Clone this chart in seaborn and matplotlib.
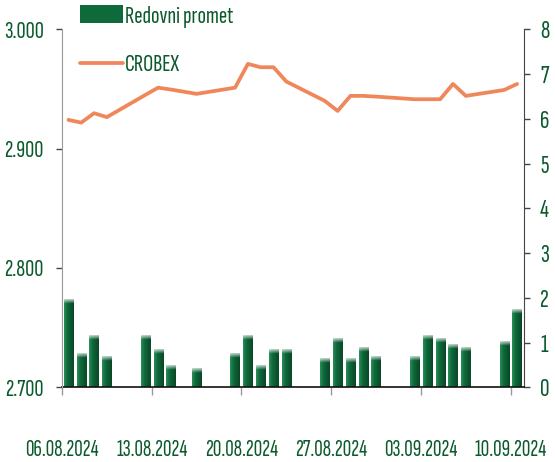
import pandas as pd
import numpy as np
import matplotlib.pyplot as plt
import matplotlib.colors as mcolors
import matplotlib.ticker as mticker
from matplotlib.patches import Patch
from matplotlib.lines import Line2D
import seaborn as sns

# trgovinski dani
dates = ['06.08.2024', '07.08.2024', '08.08.2024', '09.08.2024',
         '12.08.2024', '13.08.2024', '14.08.2024', '16.08.2024',
         '19.08.2024', '20.08.2024', '21.08.2024', '22.08.2024', '23.08.2024',
         '26.08.2024', '27.08.2024', '28.08.2024', '29.08.2024', '30.08.2024',
         '02.09.2024', '03.09.2024', '04.09.2024', '05.09.2024', '06.09.2024',
         '09.09.2024', '10.09.2024']
promet = [1.96, 0.75, 1.16, 0.69,
          1.16, 0.83, 0.47, 0.42,
          0.75, 1.16, 0.47, 0.83, 0.83,
          0.63, 1.09, 0.63, 0.89, 0.68,
          0.68, 1.16, 1.09, 0.95, 0.89,
          1.01, 1.74]
crobex = [2924.1, 2921.8, 2929.7, 2926.4,
          2945.0, 2951.1, 2949.5, 2945.9,
          2951.1, 2971.0, 2968.2, 2968.2, 2956.2,
          2940.0, 2931.6, 2944.2, 2944.2, 2943.6,
          2941.4, 2941.4, 2941.4, 2954.2, 2944.2,
          2949.2, 2954.2]
tick_dates = ['06.08.2024', '13.08.2024', '20.08.2024', '27.08.2024',
              '03.09.2024', '10.09.2024']
crobex_ticks = [2700, 2800, 2900, 3000]
promet_ticks = [0, 1, 2, 3, 4, 5, 6, 7, 8]

sns.set_style('white')
plt.rcParams['font.family'] = ['Sofia Sans Extra Condensed', 'Roboto Condensed', 'DejaVu Sans']

green_txt = '#0b5a2c'
bar_green = '#0e6a3b'
line_col = '#ef875b'

start = pd.to_datetime(dates[0], dayfirst=True)
df = pd.DataFrame({'datum': pd.to_datetime(dates, dayfirst=True),
                   'promet': promet, 'crobex': crobex})
df['dan'] = (df['datum'] - start).dt.days + 0.5
tick_pos = (pd.to_datetime(tick_dates, dayfirst=True) - start).days

fig = plt.figure(figsize=(5.55, 4.62), dpi=100)
ax = fig.add_axes([62 / 555, 1 - 387.3 / 462, 461.5 / 555, 358 / 462])

# stupci - redovni promet (desna os)
sns.barplot(data=df, x='dan', y='promet', native_scale=True, width=0.72,
            color=bar_green, errorbar=None, ax=ax)

# gradijent na stupcima
left_c = np.array(mcolors.to_rgb('#2b8c5a'))
mid_c = np.array(mcolors.to_rgb('#0e6a3b'))
right_c = np.array(mcolors.to_rgb('#0a4727'))
t = np.linspace(0, 1, 24)[:, None]
cols = np.where(t < 0.35, left_c + (mid_c - left_c) * (t / 0.35),
                mid_c + (right_c - mid_c) * ((t - 0.35) / 0.65))
px_per_unit = 358 / 8
for bar in list(ax.patches):
    x0, w, h = bar.get_x(), bar.get_width(), bar.get_height()
    n = max(int(h * px_per_unit), 2)
    img = np.tile(cols[None, :, :], (n, 1, 1))
    fade = 4
    for k in range(min(fade, n)):
        a = (fade - k) / (fade + 1) * 0.85
        img[n - 1 - k] = img[n - 1 - k] * (1 - a) + a
    ax.imshow(img, extent=[x0, x0 + w, 0, h], origin='lower', aspect='auto',
              zorder=bar.get_zorder() + 0.1, interpolation='bilinear')

# linija - CROBEX (lijeva os)
ax2 = ax.twinx()
sns.lineplot(data=df, x='dan', y='crobex', color=line_col, lw=2.7, ax=ax2)

ax.set_xlim(0, 36)
ax.set_ylim(0, 8)
ax.set_yticks(promet_ticks)
ax.yaxis.tick_right()
ax2.set_ylim(2700, 3000)
ax2.set_yticks(crobex_ticks)
ax2.yaxis.tick_left()
ax2.yaxis.set_major_formatter(
    mticker.FuncFormatter(lambda v, p: f'{int(round(v)):,}'.replace(',', '.')))

ax.set_xticks(tick_pos)
ax.set_xticklabels(tick_dates)
for a in (ax, ax2):
    a.set_xlabel('')
    a.set_ylabel('')

ax.tick_params(axis='x', bottom=True, length=6, width=1, color='#999999',
               pad=31, labelsize=17, labelcolor=green_txt)
ax.tick_params(axis='y', right=True, left=False, labelright=True, labelleft=False,
               length=4, width=1, color='#444444', pad=8,
               labelsize=19, labelcolor=green_txt)
ax2.tick_params(axis='y', left=True, right=False, labelleft=True, labelright=False,
                length=4, width=1, color='#444444', pad=9,
                labelsize=18, labelcolor=green_txt)

for s in ['top', 'left']:
    ax.spines[s].set_visible(False)
ax.spines['right'].set_color('#444444')
ax.spines['bottom'].set_color('#111111')
ax.spines['bottom'].set_linewidth(1.2)
for s in ['top', 'right', 'bottom']:
    ax2.spines[s].set_visible(False)
ax2.spines['left'].set_color('#999999')

handles = [Patch(facecolor=bar_green, edgecolor='none'),
           Line2D([], [], color=line_col, lw=2.7)]
fig.legend(handles, ['Redovni promet', 'CROBEX'], loc='upper left',
           bbox_to_anchor=(80 / 555, 1 - 5 / 462), frameon=False, fontsize=18,
           labelcolor=green_txt, handlelength=1.7, handleheight=0.7,
           handletextpad=0.1, labelspacing=1.05, borderpad=0, borderaxespad=0)

fig.savefig('out.png', dpi=100)
